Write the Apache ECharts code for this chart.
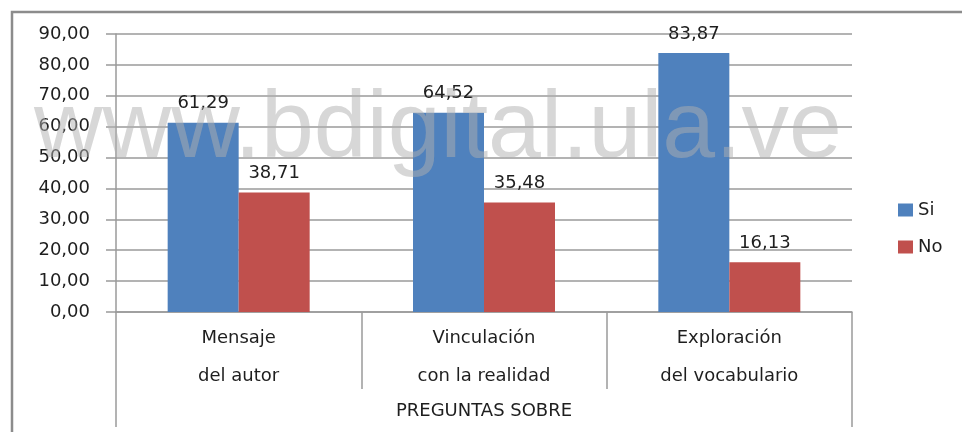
<!DOCTYPE html>
<html>
<head>
<meta charset="utf-8">
<script src="https://cdn.jsdelivr.net/npm/echarts@6/dist/echarts.min.js"></script>
<style>
  html, body { margin: 0; padding: 0; background: #fff; }
  #chart { width: 962px; height: 432px; }
</style>
</head>
<body>
<div id="chart"></div>
<script>
// categorias y valores (porcentajes)
var categorias = ['Mensaje\ndel autor', 'Vinculación\ncon la realidad', 'Exploración\ndel vocabulario'];
var si = [61.29, 64.52, 83.87];
var no = [38.71, 35.48, 16.13];
var grupo = ['PREGUNTAS SOBRE'];

function coma(v) {
    return Number(v).toFixed(2).replace('.', ',');
}

var fuente = 'DejaVu Sans, Open Sans, sans-serif';
var gris = '#9a9a9a';
var texto = '#1e1e1e';

var option = {
    animation: false,
    textStyle: { fontFamily: fuente },
    grid: { left: 116, right: 110, top: 34, bottom: 120, containLabel: false },
    legend: {
        data: ['Si', 'No'],
        orient: 'vertical',
        left: 893,
        top: 196,
        itemWidth: 15,
        itemHeight: 13,
        itemGap: 19,
        icon: 'rect',
        textStyle: { fontSize: 18, color: texto, fontFamily: fuente }
    },
    xAxis: [{
        type: 'category',
        data: categorias,
        position: 'bottom',
        axisLine: { lineStyle: { color: gris, width: 1.5 } },
        axisTick: { show: true, length: 77, lineStyle: { color: gris, width: 1.5 } },
        axisLabel: { fontSize: 18, color: texto, lineHeight: 38, margin: 7, interval: 0 }
    }, {
        type: 'category',
        data: grupo,
        position: 'bottom',
        gridIndex: 0,
        axisLine: { show: false },
        axisTick: { show: true, length: 115, lineStyle: { color: gris, width: 1.5 } },
        axisLabel: { fontSize: 18, color: texto, margin: 90 }
    }],
    yAxis: {
        type: 'value',
        min: 0,
        max: 90,
        interval: 10,
        axisLine: { show: true, lineStyle: { color: gris, width: 1.5 } },
        axisTick: { show: true, length: 10, lineStyle: { color: gris, width: 1.5 } },
        splitLine: { lineStyle: { color: gris, width: 1.5 } },
        axisLabel: { fontSize: 18, color: texto, margin: 26, formatter: coma }
    },
    series: [{
        name: 'Si',
        type: 'bar',
        data: si,
        barWidth: 71,
        barGap: '0%',
        itemStyle: { color: '#4F81BD' },
        label: { show: true, position: 'top', distance: 10, fontSize: 18, color: texto,
                 formatter: function (p) { return coma(p.value); } }
    }, {
        name: 'No',
        type: 'bar',
        data: no,
        barWidth: 71,
        itemStyle: { color: '#C0504D' },
        label: { show: true, position: 'top', distance: 10, fontSize: 18, color: texto,
                 formatter: function (p) { return coma(p.value); } }
    }],
    graphic: [{
        type: 'polyline',
        shape: { points: [[12, 432], [12, 12], [962, 12]] },
        style: { stroke: '#8c8c8c', lineWidth: 2.5, fill: null },
        z: 50
    }, {
        type: 'text',
        left: 34,
        top: 83,
        z: 100,
        style: {
            text: 'www.bdigital.ula.ve',
            font: '95px "Liberation Sans", Arial, sans-serif',
            fill: 'rgba(175,175,175,0.5)'
        }
    }]
};

var chart = echarts.init(document.getElementById('chart'));
chart.setOption(option);
</script>
</body>
</html>
